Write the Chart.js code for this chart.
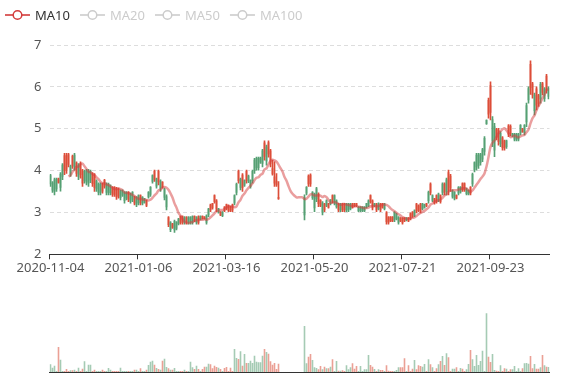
<!DOCTYPE html>
<html><head><meta charset="utf-8">
<script src="https://cdn.jsdelivr.net/npm/chart.js@4.4.1/dist/chart.umd.min.js"></script>
<style>
html,body{margin:0;padding:0;background:#fff;}
#wrap{position:relative;width:577px;height:380px;overflow:hidden;background:#fff;}
canvas{position:absolute;left:0;}
#legend{position:absolute;left:0;top:0;}
</style></head><body>
<div id="wrap">
<canvas id="price" width="577" height="290" style="top:0px"></canvas>
<canvas id="volume" width="577" height="90" style="top:290px"></canvas>
<svg id="legend" width="577" height="30" xmlns="http://www.w3.org/2000/svg"></svg>
</div>
<script>
const dates = [
"2020-11-04","2020-11-05","2020-11-06","2020-11-09","2020-11-10","2020-11-11","2020-11-12","2020-11-13","2020-11-16","2020-11-17",
"2020-11-18","2020-11-19","2020-11-20","2020-11-23","2020-11-24","2020-11-25","2020-11-26","2020-11-27","2020-11-30","2020-12-01",
"2020-12-02","2020-12-03","2020-12-04","2020-12-07","2020-12-08","2020-12-09","2020-12-10","2020-12-11","2020-12-14","2020-12-15",
"2020-12-16","2020-12-17","2020-12-18","2020-12-21","2020-12-22","2020-12-23","2020-12-24","2020-12-25","2020-12-28","2020-12-29",
"2020-12-30","2020-12-31","2021-01-04","2021-01-05","2021-01-06","2021-01-07","2021-01-08","2021-01-11","2021-01-12","2021-01-13",
"2021-01-14","2021-01-15","2021-01-18","2021-01-19","2021-01-20","2021-01-21","2021-01-22","2021-01-25","2021-01-26","2021-01-27",
"2021-01-28","2021-01-29","2021-02-01","2021-02-02","2021-02-03","2021-02-04","2021-02-05","2021-02-08","2021-02-09","2021-02-10",
"2021-02-18","2021-02-19","2021-02-22","2021-02-23","2021-02-24","2021-02-25","2021-02-26","2021-03-01","2021-03-02","2021-03-03",
"2021-03-04","2021-03-05","2021-03-08","2021-03-09","2021-03-10","2021-03-11","2021-03-12","2021-03-15","2021-03-16","2021-03-17",
"2021-03-18","2021-03-19","2021-03-22","2021-03-23","2021-03-24","2021-03-25","2021-03-26","2021-03-29","2021-03-30","2021-03-31",
"2021-04-01","2021-04-02","2021-04-05","2021-04-06","2021-04-07","2021-04-08","2021-04-09","2021-04-12","2021-04-13","2021-04-14",
"2021-04-15","2021-04-16","2021-04-19","2021-04-20","2021-04-21","2021-04-22","2021-04-23","2021-04-26","2021-04-27","2021-04-28",
"2021-04-29","2021-04-30","2021-05-06","2021-05-07","2021-05-10","2021-05-11","2021-05-12","2021-05-13","2021-05-14","2021-05-17",
"2021-05-18","2021-05-19","2021-05-20","2021-05-21","2021-05-24","2021-05-25","2021-05-26","2021-05-27","2021-05-28","2021-05-31",
"2021-06-01","2021-06-02","2021-06-03","2021-06-04","2021-06-07","2021-06-08","2021-06-09","2021-06-10","2021-06-11","2021-06-14",
"2021-06-15","2021-06-16","2021-06-17","2021-06-18","2021-06-21","2021-06-22","2021-06-23","2021-06-24","2021-06-25","2021-06-28",
"2021-06-29","2021-06-30","2021-07-01","2021-07-02","2021-07-05","2021-07-06","2021-07-07","2021-07-08","2021-07-09","2021-07-12",
"2021-07-13","2021-07-14","2021-07-15","2021-07-16","2021-07-19","2021-07-20","2021-07-21","2021-07-22","2021-07-23","2021-07-26",
"2021-07-27","2021-07-28","2021-07-29","2021-07-30","2021-08-02","2021-08-03","2021-08-04","2021-08-05","2021-08-06","2021-08-09",
"2021-08-10","2021-08-11","2021-08-12","2021-08-13","2021-08-16","2021-08-17","2021-08-18","2021-08-19","2021-08-20","2021-08-23",
"2021-08-24","2021-08-25","2021-08-26","2021-08-27","2021-08-30","2021-08-31","2021-09-01","2021-09-02","2021-09-03","2021-09-06",
"2021-09-07","2021-09-08","2021-09-09","2021-09-10","2021-09-13","2021-09-14","2021-09-15","2021-09-16","2021-09-17","2021-09-22",
"2021-09-23","2021-09-24","2021-09-27","2021-09-28","2021-09-29","2021-09-30","2021-10-08","2021-10-11","2021-10-12","2021-10-13",
"2021-10-14","2021-10-15","2021-10-18","2021-10-19","2021-10-20","2021-10-21","2021-10-22","2021-10-25","2021-10-26","2021-10-27",
"2021-10-28","2021-10-29","2021-11-01","2021-11-02","2021-11-03","2021-11-04","2021-11-05","2021-11-08","2021-11-09","2021-11-10"
];

const opens = [
3.88,3.71,3.78,3.79,3.72,3.91,4.13,4.00,4.03,4.15,
4.10,4.11,4.37,3.93,4.13,3.90,3.70,3.98,3.99,3.99,
3.98,3.69,3.59,3.75,3.68,3.68,3.51,3.62,3.68,3.67,
3.64,3.43,3.43,3.37,3.39,3.52,3.52,3.47,3.48,3.31,
3.44,3.48,3.22,3.36,3.40,3.23,3.36,3.33,3.17,3.48,
3.60,3.88,3.79,3.80,3.73,3.75,3.61,3.55,3.38,2.71,
2.76,2.64,2.79,2.76,2.84,2.76,2.76,2.88,2.76,2.88,
2.88,2.90,2.81,2.88,2.76,2.91,2.86,2.85,2.92,3.08,
3.06,3.11,3.26,3.08,3.09,2.94,3.01,3.04,3.09,3.05,
3.05,3.06,3.40,3.67,3.76,3.79,3.59,3.76,3.76,3.87,
3.76,3.98,4.25,4.29,4.29,4.30,4.47,4.34,4.56,4.40,
4.17,3.92,3.70,3.66,3.33,null,null,null,null,null,
null,null,null,null,null,null,null,3.36,3.60,3.68,
3.68,3.48,3.42,3.57,3.21,3.17,3.23,3.06,3.28,3.12,
3.30,3.27,3.40,3.28,3.06,3.20,3.06,3.06,3.20,3.20,
3.20,3.12,3.16,3.16,3.13,3.13,3.13,3.13,3.21,3.28,
3.26,3.11,3.21,3.06,3.21,3.06,3.12,3.20,2.78,2.76,
2.80,2.80,3.00,2.96,2.88,2.80,2.75,2.80,2.87,2.80,
2.85,2.91,3.04,3.04,3.05,3.04,3.20,3.19,3.16,3.48,
3.48,3.40,3.23,3.26,3.44,3.26,3.68,3.48,3.78,3.54,
3.58,3.52,3.48,3.34,3.60,3.60,3.54,3.54,3.56,3.53,
3.46,3.91,4.19,4.37,4.37,4.38,4.50,4.77,5.20,5.35,
5.39,5.22,5.05,4.79,4.69,4.89,4.55,4.54,4.71,4.87,
4.88,4.88,4.87,4.87,4.87,5.08,4.93,5.08,5.55,5.96,
5.98,5.81,5.80,5.56,5.59,6.06,5.87,5.95,5.94,5.97
];

const closes = [
3.68,3.53,3.50,3.56,3.81,3.60,3.86,4.36,4.36,4.38,
3.91,4.34,4.09,4.18,3.86,4.17,3.99,3.76,3.73,3.70,
3.77,3.92,3.89,3.56,3.48,3.48,3.68,3.77,3.48,3.48,
3.47,3.60,3.60,3.57,3.56,3.35,3.41,3.28,3.34,3.48,
3.27,3.31,3.37,3.19,3.23,3.40,3.22,3.24,3.28,3.37,
3.43,3.74,3.98,3.63,3.98,3.56,3.72,3.36,3.13,2.88,
2.59,2.73,2.58,2.62,2.73,2.90,2.90,2.76,2.88,2.76,
2.76,2.76,2.91,2.76,2.90,2.84,2.91,2.89,2.76,2.94,
3.18,3.21,3.40,3.28,3.00,3.01,2.92,3.13,3.19,3.16,
3.14,3.18,3.23,3.48,3.98,3.60,3.89,3.65,3.98,3.75,
3.62,3.76,4.00,4.07,4.07,4.20,4.17,4.66,4.23,4.67,
4.47,4.05,3.85,3.75,3.36,3.36,3.36,3.36,3.36,3.36,
3.36,3.36,3.36,3.36,3.36,3.36,3.36,2.94,3.46,3.87,
3.89,3.35,3.11,3.33,3.44,3.29,3.00,3.20,3.17,3.21,
3.21,3.40,3.23,3.14,3.20,3.06,3.20,3.20,3.06,3.06,
3.09,3.21,3.21,3.21,3.04,3.04,3.04,3.04,3.12,3.17,
3.40,3.28,3.16,3.20,3.09,3.20,3.21,3.09,2.99,2.88,
2.89,2.89,2.83,2.85,2.76,2.87,2.86,2.87,2.82,2.87,
2.97,3.01,2.93,3.20,3.16,3.20,3.09,3.12,3.21,3.28,
3.68,3.29,3.33,3.40,3.30,3.40,3.48,3.68,3.50,3.95,
3.87,3.38,3.34,3.41,3.46,3.49,3.69,3.69,3.45,3.44,
3.60,3.68,4.02,4.09,4.12,4.19,4.27,4.46,5.12,5.68,
6.03,4.71,4.49,4.98,4.97,4.64,4.78,4.71,4.57,5.07,
5.06,4.83,4.75,4.75,4.75,4.90,5.00,4.90,5.16,5.69,
6.54,6.07,5.43,5.95,5.79,5.71,6.08,5.72,6.26,5.77
];

const highs = [
3.91,3.74,3.82,3.82,3.82,3.95,4.17,4.41,4.41,4.41,
4.13,4.37,4.41,4.21,4.17,4.21,4.03,4.01,4.03,4.03,
4.01,3.95,3.93,3.78,3.71,3.71,3.70,3.79,3.71,3.70,
3.66,3.62,3.62,3.60,3.58,3.54,3.54,3.50,3.50,3.50,
3.46,3.50,3.39,3.38,3.42,3.42,3.38,3.34,3.30,3.50,
3.62,3.90,4.01,3.82,4.01,3.78,3.74,3.58,3.42,2.90,
2.78,2.74,2.82,2.78,2.86,2.92,2.92,2.90,2.90,2.90,
2.90,2.92,2.92,2.90,2.92,2.92,2.92,2.90,2.94,3.10,
3.20,3.22,3.42,3.31,3.10,3.02,3.02,3.14,3.20,3.18,
3.15,3.20,3.42,3.70,4.01,3.82,3.93,3.78,4.01,3.89,
3.78,4.01,4.29,4.32,4.32,4.32,4.51,4.71,4.61,4.71,
4.51,4.25,4.21,3.93,3.74,null,null,null,null,null,
null,null,null,null,null,null,null,3.42,3.62,3.90,
3.92,3.50,3.46,3.60,3.47,3.31,3.26,3.22,3.30,3.22,
3.31,3.42,3.42,3.30,3.22,3.22,3.22,3.22,3.22,3.22,
3.22,3.22,3.22,3.22,3.14,3.14,3.14,3.14,3.22,3.30,
3.42,3.30,3.22,3.22,3.23,3.22,3.22,3.22,3.02,2.90,
2.90,2.90,3.02,2.98,2.90,2.88,2.88,2.88,2.88,2.88,
2.99,3.02,3.06,3.22,3.18,3.22,3.22,3.20,3.22,3.51,
3.71,3.42,3.34,3.42,3.46,3.42,3.71,3.71,3.82,4.01,
3.91,3.54,3.50,3.42,3.62,3.62,3.71,3.71,3.58,3.54,
3.62,3.94,4.21,4.41,4.41,4.41,4.53,4.81,5.21,5.73,
6.12,5.29,5.13,5.01,5.01,4.93,4.81,4.73,4.73,5.10,
5.09,4.89,4.89,4.89,4.89,5.10,5.01,5.10,5.61,6.00,
6.62,6.11,5.85,6.00,5.82,6.11,6.11,5.98,6.30,6.00
];

const lows = [
3.62,3.48,3.42,3.50,3.70,3.51,3.78,3.90,3.93,4.09,
3.86,4.05,4.01,3.86,3.78,3.82,3.62,3.70,3.66,3.62,
3.71,3.62,3.50,3.50,3.42,3.42,3.46,3.58,3.42,3.42,
3.42,3.38,3.38,3.31,3.34,3.30,3.38,3.22,3.30,3.26,
3.22,3.26,3.18,3.14,3.18,3.18,3.18,3.22,3.14,3.34,
3.38,3.70,3.74,3.58,3.66,3.50,3.58,3.30,3.06,2.66,
2.54,2.62,2.52,2.58,2.70,2.72,2.72,2.72,2.72,2.72,
2.72,2.72,2.78,2.72,2.72,2.82,2.84,2.84,2.72,2.90,
3.02,3.08,3.22,3.02,2.98,2.92,2.90,3.02,3.06,3.02,
3.02,3.02,3.18,3.42,3.70,3.54,3.50,3.62,3.70,3.71,
3.58,3.70,3.93,4.01,4.01,4.17,4.09,4.25,4.13,4.32,
4.09,3.89,3.62,3.62,3.31,null,null,null,null,null,
null,null,null,null,null,null,null,2.82,3.42,3.62,
3.62,3.31,3.02,3.26,3.14,3.14,2.94,3.02,3.14,3.10,
3.18,3.23,3.18,3.10,3.02,3.02,3.02,3.02,3.02,3.02,
3.06,3.10,3.14,3.14,3.02,3.02,3.02,3.02,3.10,3.14,
3.22,3.06,3.14,3.02,3.06,3.02,3.10,3.06,2.72,2.72,
2.78,2.78,2.78,2.82,2.72,2.78,2.72,2.78,2.80,2.78,
2.82,2.88,2.90,2.99,3.02,2.99,3.06,3.10,3.14,3.22,
3.42,3.26,3.20,3.22,3.26,3.22,3.42,3.42,3.42,3.42,
3.50,3.34,3.30,3.32,3.42,3.46,3.50,3.50,3.42,3.42,
3.42,3.62,3.97,4.01,4.05,4.13,4.21,4.37,5.10,5.25,
5.21,4.57,4.33,4.73,4.61,4.57,4.49,4.49,4.53,4.81,
4.83,4.81,4.71,4.71,4.71,4.85,4.91,4.85,5.05,5.61,
5.82,5.73,5.33,5.45,5.53,5.61,5.81,5.65,5.85,5.71
];

const volumes = [
7700,4300,6300,1000,25000,12300,1000,1000,3000,1000,
1700,1700,2300,1000,4300,1000,3300,10700,1000,7300,
7300,1000,2300,1000,1000,1000,2300,1000,1000,4000,
2300,1000,1000,1000,1000,4300,1000,1000,1000,1000,
1000,1000,2300,2300,1000,3700,1000,1000,2300,7000,
10300,11300,7300,4000,3000,2300,11300,13300,5000,3700,
2300,2300,4000,1000,1000,1000,1000,2300,1000,1000,
10300,4700,3000,6300,3000,1000,3000,5300,5300,8300,
7700,3700,6300,5000,4300,3000,1000,4000,5000,1000,
4300,1000,23000,14000,13000,20700,6300,18000,9000,9000,
11300,9000,16300,10300,9700,9700,16300,23000,20000,18300,
10700,7300,9000,3000,8300,0,0,0,0,0,
0,0,0,0,0,0,0,46000,8700,15300,
18000,12000,4700,4000,2700,6000,2700,5300,3700,3700,
5300,12700,1000,11000,1300,1300,1700,1000,6700,2700,
4700,8700,3300,6000,1000,6000,1000,2700,2700,17000,
7000,5300,3000,1000,2700,2000,2000,1000,6700,1300,
1000,1000,1000,2000,4700,4700,4700,13700,1000,6700,
1000,3300,12000,2700,6700,6000,5300,8000,1000,12700,
7700,4700,1000,3700,7700,11000,16000,7000,18700,14700,
1000,3300,3300,4700,1000,4000,3300,1000,2700,8000,
22000,12700,6000,17000,7000,11000,21300,1000,58700,15300,
10000,18000,2000,1300,1000,6700,1000,3700,3300,1000,
2700,2700,6000,1000,3700,1000,3700,8700,9000,8300,
16000,3700,8000,3300,3300,4700,17000,6700,5300,5000
];

const legendNames = ["MA10", "MA20", "MA50", "MA100"];
const legendActive = [true, false, false, false];
const LABEL_STEP = 44;
const VOLUME_MAX = 70000;

const UP = "#dc4d38";
const DOWN = "#55a073";
const VOL_UP = "rgba(215,65,43,0.5)";
const VOL_DOWN = "rgba(75,151,105,0.5)";
const MA_COLOR = "rgba(214,62,62,0.5)";
const LEGEND_ON = "#d33b3b";
const LEGEND_OFF = "#cccccc";

function movingAverage(values, n) {
  return values.map((v, i) => {
    if (i < n - 1) return null;
    let s = 0;
    for (let k = i - n + 1; k <= i; k++) s += values[k];
    return s / n;
  });
}
const ma10 = movingAverage(closes, 10);

function isUp(i) { return closes[i] >= opens[i]; }
function candleColor(i) { return opens[i] == null ? "rgba(0,0,0,0)" : (isUp(i) ? UP : DOWN); }
function volColor(i) { return opens[i] == null ? "rgba(0,0,0,0)" : (isUp(i) ? VOL_UP : VOL_DOWN); }

Chart.defaults.font.family = "'Noto Sans', sans-serif";
Chart.defaults.font.size = 13;

const PLOT_LEFT = 49.5;
const PLOT_RIGHT_PAD = 27.5;

new Chart(document.getElementById("price"), {
  type: "bar",
  data: {
    labels: dates,
    datasets: [
      {
        type: "line", label: "MA10", data: ma10,
        borderColor: MA_COLOR, borderWidth: 2.5, pointRadius: 0,
        tension: 0.35, order: 0, fill: false
      },
      {
        label: "wick",
        data: dates.map((d, i) => lows[i] == null ? null : [lows[i], highs[i]]),
        backgroundColor: ctx => candleColor(ctx.dataIndex),
        barThickness: 1, grouped: false, order: 2, borderWidth: 0
      },
      {
        label: "body",
        data: dates.map((d, i) => opens[i] == null ? null : [opens[i], closes[i]]),
        backgroundColor: ctx => candleColor(ctx.dataIndex),
        barThickness: 1, grouped: false, order: 1, borderWidth: 0
      }
    ]
  },
  options: {
    responsive: false, animation: false, events: [],
    plugins: { legend: { display: false }, tooltip: { enabled: false } },
    layout: { padding: { left: 0, right: PLOT_RIGHT_PAD, top: 45, bottom: 0 } },
    scales: {
      x: {
        type: "category", offset: true,
        grid: {
          display: true, drawOnChartArea: false, drawTicks: true, tickLength: 5, offset: true,
          color: ctx => (ctx.index % LABEL_STEP === 0 ? "#333" : "rgba(0,0,0,0)"), lineWidth: 1
        },
        border: { display: true, color: "#333", width: 1 },
        ticks: {
          autoSkip: false, maxRotation: 0, minRotation: 0, padding: 1, color: "#555",
          callback: (v, i) => (i % LABEL_STEP === 0 ? dates[i] : "")
        },
        afterFit: s => { s.height = 35.7; }
      },
      y: {
        min: 2, max: 7,
        ticks: { stepSize: 1, padding: 8, color: "#555" },
        grid: {
          drawTicks: false, lineWidth: 1,
          color: ctx => (ctx.tick && ctx.tick.value === 2 ? "rgba(0,0,0,0)" : "#dddddd")
        },
        border: { display: false, dash: [4, 3] },
        afterFit: s => { s.width = PLOT_LEFT; }
      }
    }
  }
});

new Chart(document.getElementById("volume"), {
  type: "bar",
  data: {
    labels: dates,
    datasets: [{
      label: "Volume", data: volumes,
      backgroundColor: ctx => volColor(ctx.dataIndex),
      borderWidth: 0, barPercentage: 1, categoryPercentage: 0.8
    }]
  },
  options: {
    responsive: false, animation: false, events: [],
    plugins: { legend: { display: false }, tooltip: { enabled: false } },
    layout: { padding: { left: PLOT_LEFT, right: PLOT_RIGHT_PAD, top: 12, bottom: 0 } },
    scales: {
      x: {
        offset: true,
        grid: { display: false },
        border: { display: true, color: "#333", width: 1 },
        ticks: { display: false },
        afterFit: s => { s.height = 8; }
      },
      y: { display: false, min: 0, max: VOLUME_MAX }
    }
  }
});

// legend
(function () {
  const NS = "http://www.w3.org/2000/svg";
  const svg = document.getElementById("legend");
  let x = 5;
  legendNames.forEach((name, k) => {
    const col = legendActive[k] ? LEGEND_ON : LEGEND_OFF;
    const line = document.createElementNS(NS, "line");
    line.setAttribute("x1", x); line.setAttribute("x2", x + 25);
    line.setAttribute("y1", 15); line.setAttribute("y2", 15);
    line.setAttribute("stroke", col); line.setAttribute("stroke-width", 1.6);
    svg.appendChild(line);
    const c = document.createElementNS(NS, "circle");
    c.setAttribute("cx", x + 12.5); c.setAttribute("cy", 15); c.setAttribute("r", 4.3);
    c.setAttribute("fill", "#fff"); c.setAttribute("stroke", col); c.setAttribute("stroke-width", 1.5);
    svg.appendChild(c);
    const t = document.createElementNS(NS, "text");
    t.setAttribute("x", x + 30); t.setAttribute("y", 19.5);
    t.setAttribute("font-family", "Noto Sans, sans-serif"); t.setAttribute("font-size", 13);
    t.setAttribute("fill", legendActive[k] ? "#333" : LEGEND_OFF);
    t.textContent = name;
    svg.appendChild(t);
    const w = t.getComputedTextLength();
    x = x + 30 + w + 10;
  });
})();
</script>
</body></html>
